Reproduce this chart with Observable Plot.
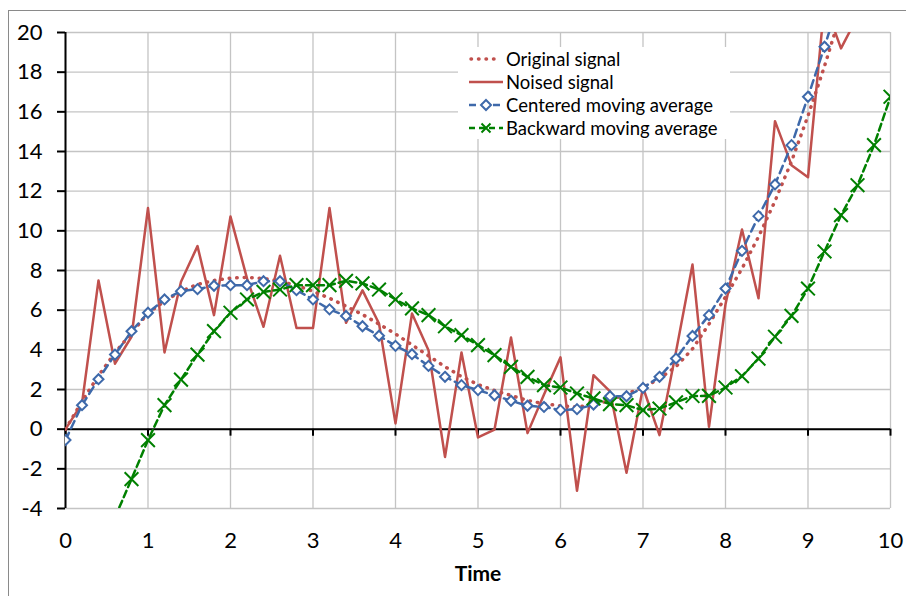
<!DOCTYPE html>
<html><head><meta charset="utf-8">
<script src="https://cdn.jsdelivr.net/npm/d3@7"></script>
<script src="https://cdn.jsdelivr.net/npm/@observablehq/plot@0.6"></script>
<style>
html,body{margin:0;padding:0;background:#fff;overflow:hidden;}
#wrap{position:relative;width:906px;height:596px;font-family:Lato,sans-serif;}
#chart{position:absolute;left:0;top:0;}
#frame{position:absolute;left:8px;top:10px;width:1200px;height:1200px;border:1px solid #8a8a8a;box-sizing:border-box;pointer-events:none;}
#legend{position:absolute;left:458px;top:47px;width:272px;background:#fff;font-size:18.5px;color:#000;}
.row{display:flex;align-items:center;height:23px;white-space:nowrap;}
.row svg{margin-left:11px;margin-right:3px;display:block;}
</style></head><body>
<div id="wrap"><div id="chart"></div><div id="legend"></div><div id="frame"></div></div>
<script>
const time = [0,0.2,0.4,0.6,0.8,1,1.2,1.4,1.6,1.8,2,2.2,2.4,2.6,2.8,3,3.2,3.4,3.6,3.8,4,4.2,4.4,4.6,4.8,5,5.2,5.4,5.6,5.8,6,6.2,6.4,6.6,6.8,7,7.2,7.4,7.6,7.8,8,8.2,8.4,8.6,8.8,9,9.2,9.4,9.6,9.8,10];
const original = [0,1.4,2.7,3.85,4.85,5.85,6.45,6.95,7.3,7.5,7.62,7.65,7.6,7.45,7.25,6.95,6.6,6.2,5.78,5.3,4.8,4.25,3.7,3.15,2.65,2.25,1.95,1.7,1.45,1.28,1.18,1.12,1.22,1.45,1.78,2.1,2.55,3.15,4.05,5.3,6.67,8.1,9.7,11.5,13.5,15.8,18.3,21.0,23.9,27.0,30.5];
const noised = [0,1.3,7.5,3.3,4.66,11.15,3.87,7.43,9.23,5.75,10.72,7.6,5.16,8.74,5.1,5.1,11.15,5.36,7.0,5.33,0.29,5.83,3.98,-1.4,3.87,-0.42,-0.02,4.62,-0.2,1.75,3.62,-3.11,2.72,1.9,-2.2,2.1,-0.3,3.9,8.3,0.12,6.3,10.07,6.6,15.53,13.31,12.7,21.5,19.2,20.8,24.0,26.0];
const centered = [-0.55,1.21,2.52,3.76,4.94,5.87,6.54,6.96,7.06,7.23,7.26,7.26,7.46,7.46,7.01,6.54,6.04,5.71,5.19,4.71,4.2,3.78,3.19,2.64,2.22,1.97,1.71,1.43,1.18,1.12,0.96,1.01,1.24,1.66,1.66,2.08,2.64,3.56,4.7,5.75,7.09,8.99,10.74,12.34,14.32,16.76,19.28,21.9,null,null,null];
const backward = [null,null,null,-4.45,-2.52,-0.55,1.21,2.5,3.76,4.94,5.87,6.54,6.92,7.04,7.26,7.26,7.26,7.48,7.35,7.04,6.54,6.09,5.75,5.19,4.74,4.24,3.73,3.14,2.64,2.22,2.1,1.8,1.55,1.26,1.21,0.96,1.04,1.35,1.67,1.68,2.1,2.67,3.56,4.66,5.71,7.09,8.96,10.79,12.3,14.32,16.76];
const xTicks = [0,1,2,3,4,5,6,7,8,9,10];
const yTicks = [-4,-2,0,2,4,6,8,10,12,14,16,18,20];
const seriesNames = ["Original signal","Noised signal","Centered moving average","Backward moving average"];

const red = "#c0504d", blue = "#3e69aa", green = "#008000";

const rows = time.map((t, i) => ({t, original: original[i], noised: noised[i], centered: centered[i], backward: backward[i]}));

const chart = Plot.plot({
  width: 906, height: 596,
  marginLeft: 65, marginRight: 16, marginTop: 32, marginBottom: 88,
  style: {fontFamily: "Lato, sans-serif", fontSize: "22px", color: "#000", background: "transparent"},
  x: {domain: [0, 10], label: null},
  y: {domain: [-4, 20], label: null},
  marks: [
    Plot.gridY({ticks: yTicks, stroke: "#c4c4c4", strokeOpacity: 1, strokeWidth: 1.3}),
    Plot.gridX({ticks: xTicks, stroke: "#c4c4c4", strokeOpacity: 1, strokeWidth: 1.3}),
    Plot.ruleY([0], {stroke: "#000", strokeWidth: 2}),
    Plot.ruleX(xTicks, {x: d => d, y1: 0, y2: 0, insetBottom: -7, stroke: "#000", strokeWidth: 2}),
    Plot.ruleX([0], {stroke: "#000", strokeWidth: 2}),
    Plot.axisY({ticks: yTicks, tickSize: 8, tickPadding: 15, tickFormat: d => String(d), stroke: "#000", strokeWidth: 2, label: null}),
    Plot.axisX({ticks: xTicks, tickSize: 0, tickPadding: 24, tickFormat: d => String(d), label: null}),
    Plot.text(["Time"], {frameAnchor: "bottom", dy: 72, fontWeight: "bold", fontSize: 21}),
    Plot.line(rows, {x: "t", y: "original", stroke: red, strokeWidth: 3.5, strokeDasharray: "0.5,7", strokeLinecap: "round", clip: true}),
    Plot.line(rows, {x: "t", y: "noised", stroke: red, strokeWidth: 2.5, clip: true}),
    Plot.line(rows, {x: "t", y: "centered", stroke: blue, strokeWidth: 2.5, strokeDasharray: "8,5", clip: true}),
    Plot.dot(rows, {x: "t", y: "centered", symbol: "diamond2", r: 4.5, stroke: blue, strokeWidth: 2, fill: "white", clip: true}),
    Plot.line(rows, {x: "t", y: "backward", stroke: green, strokeWidth: 2.5, strokeDasharray: "7,4", clip: true}),
    Plot.dot(rows, {x: "t", y: "backward", symbol: "times", r: 6.3, stroke: green, strokeWidth: 2, clip: true})
  ]
});
document.getElementById("chart").appendChild(chart);

const samples = [
  `<line x1="2" y1="10" x2="32" y2="10" stroke="${red}" stroke-width="3.5" stroke-dasharray="0.5,7" stroke-linecap="round"/>`,
  `<line x1="0" y1="10" x2="34" y2="10" stroke="${red}" stroke-width="2.5"/>`,
  `<line x1="0" y1="10" x2="34" y2="10" stroke="${blue}" stroke-width="2.5" stroke-dasharray="7,5"/><path d="M17,5L22,10L17,15L12,10Z" fill="white" stroke="${blue}" stroke-width="2"/>`,
  `<line x1="0" y1="10" x2="34" y2="10" stroke="${green}" stroke-width="2.5" stroke-dasharray="6,4"/><path d="M12.5,5.5L21.5,14.5M21.5,5.5L12.5,14.5" stroke="${green}" stroke-width="2"/>`
];
const legend = document.getElementById("legend");
seriesNames.forEach((name, i) => {
  const row = document.createElement("div");
  row.className = "row";
  row.innerHTML = `<svg width="34" height="20">${samples[i]}</svg><span>${name}</span>`;
  legend.appendChild(row);
});
</script>
</body></html>
